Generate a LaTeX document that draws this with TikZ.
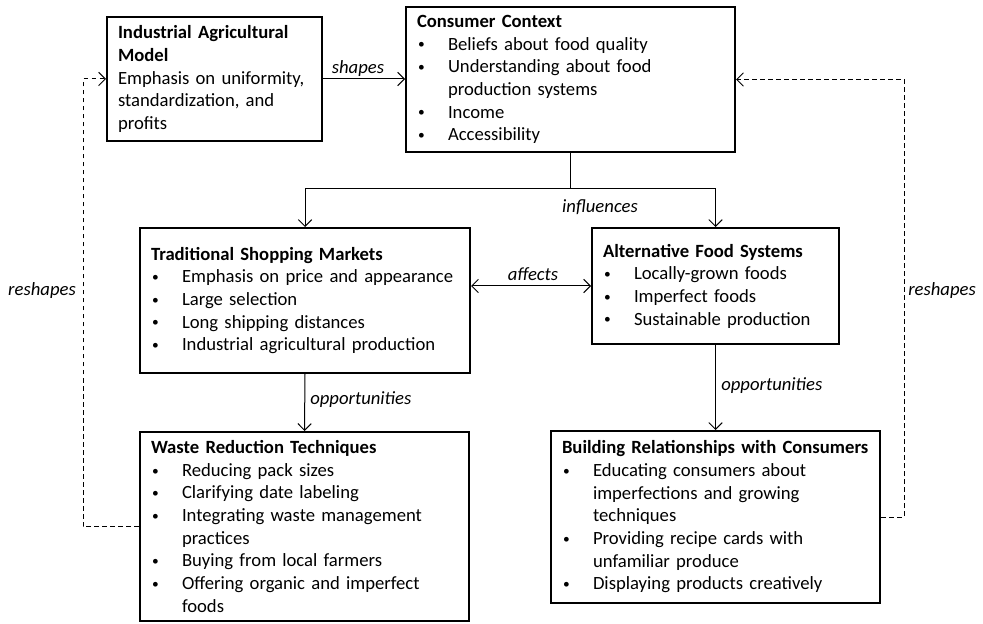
\documentclass[tikz,border=0pt]{standalone}
\usepackage{fontspec}
\setmainfont{Carlito}
\usetikzlibrary{arrows.meta}
\newcommand\bitem[1]{\par\noindent\makebox[23.25pt][l]{\hspace{0.75pt}\raisebox{0.9pt}{\scalebox{0.72}{\textbullet}}}\mbox{#1}}
\newcommand\bcont[1]{\par\noindent\hspace*{23.25pt}\mbox{#1}}
\begin{document}
\begin{tikzpicture}[x=0.75pt,y=-0.75pt,
  boxnode/.style={draw, line width=1.5pt, rectangle, inner xsep=8.25pt, inner ysep=0pt,
    font=\fontsize{14pt}{17pt}\selectfont, align=left},
  conn/.style={line width=0.75pt, -{Straight Barb[length=5pt,width=10pt]}},
  plainconn/.style={line width=0.75pt},
  dconn/.style={line width=0.75pt, dash pattern=on 3.5pt off 2.5pt},
  lbl/.style={font=\fontsize{14pt}{17pt}\selectfont\itshape, inner sep=0pt}]
\useasboundingbox (0,0) rectangle (983,624);

\node[boxnode, minimum width=161.25pt, text width=144.75pt, minimum height=93pt] (b1) at (214.5,79)
 {\textbf{Industrial Agricultural}\par\noindent\textbf{Model}\par\noindent Emphasis on uniformity,\par\noindent standardization, and\par\noindent profits};

\node[boxnode, minimum width=246.75pt, text width=230.25pt, minimum height=108.75pt] (b2) at (570.5,79.5)
 {\textbf{Consumer Context}\bitem{Beliefs about food quality}\bitem{Understanding about food}\bcont{production systems}\bitem{Income}\bitem{Accessibility}};

\node[boxnode, minimum width=247.5pt, text width=231pt, minimum height=108.75pt] (b3) at (305,300.5)
 {\textbf{Traditional Shopping Markets}\bitem{Emphasis on price and appearance}\bitem{Large selection}\bitem{Long shipping distances}\bitem{Industrial agricultural production}};

\node[boxnode, minimum width=185.25pt, text width=168.75pt, minimum height=87pt] (b4) at (715.5,286)
 {\textbf{Alternative Food Systems}\bitem{Locally-grown foods}\bitem{Imperfect foods}\bitem{Sustainable production}};

\node[boxnode, minimum width=246.75pt, text width=230.25pt, minimum height=141.75pt] (b5) at (304.5,526.5)
 {\textbf{Waste Reduction Techniques}\bitem{Reducing pack sizes}\bitem{Clarifying date labeling}\bitem{Integrating waste management}\bcont{practices}\bitem{Buying from local farmers}\bitem{Offering organic and imperfect}\bcont{foods}};

\node[boxnode, minimum width=246.75pt, text width=230.25pt, minimum height=129pt] (b6) at (715.5,517)
 {\textbf{Building Relationships with Consumers}\bitem{Educating consumers about}\bcont{imperfections and growing}\bcont{techniques}\bitem{Providing recipe cards with}\bcont{unfamiliar produce}\bitem{Displaying products creatively}};

% connectors
\draw[conn] (b1.east) -- (b2.west |- b1.east);
\coordinate (j) at (570.5,189);
\draw[plainconn] (b2.south) -- (j);
\draw[conn] (j) -| (b3.north);
\draw[conn] (j) -| (b4.north);
\draw[conn, {Straight Barb[length=5pt,width=10pt]}-{Straight Barb[length=5pt,width=10pt]}] (b3.east |- b4.west) -- (b4.west);
\draw[conn] (b3.south) -- (b5.north);
\draw[conn] (b4.south) -- (b6.north);
\coordinate (lc) at (83,526.5);
\coordinate (rc) at (904,517);
\draw[dconn, -{Straight Barb[length=5pt,width=10pt]}] (b5.west) -- (lc) |- (b1.west);
\draw[dconn, -{Straight Barb[length=5pt,width=10pt]}] (b6.east) -- (rc) |- (b2.east);

% labels
\node[lbl] (lshapes) at (358,69) {shapes};
\node[lbl] (linfl) at (600,207) {influences};
\node[lbl] (laff) at (533,274) {affects};
\node[lbl, anchor=west] (lopp1) at (310,400) {opportunities};
\node[lbl, anchor=west] (lopp2) at (721,386) {opportunities};
\node[lbl] (lresh1) at (42,291) {reshapes};
\node[lbl, anchor=west] (lresh2) at (908,291) {reshapes};
\end{tikzpicture}
\end{document}
